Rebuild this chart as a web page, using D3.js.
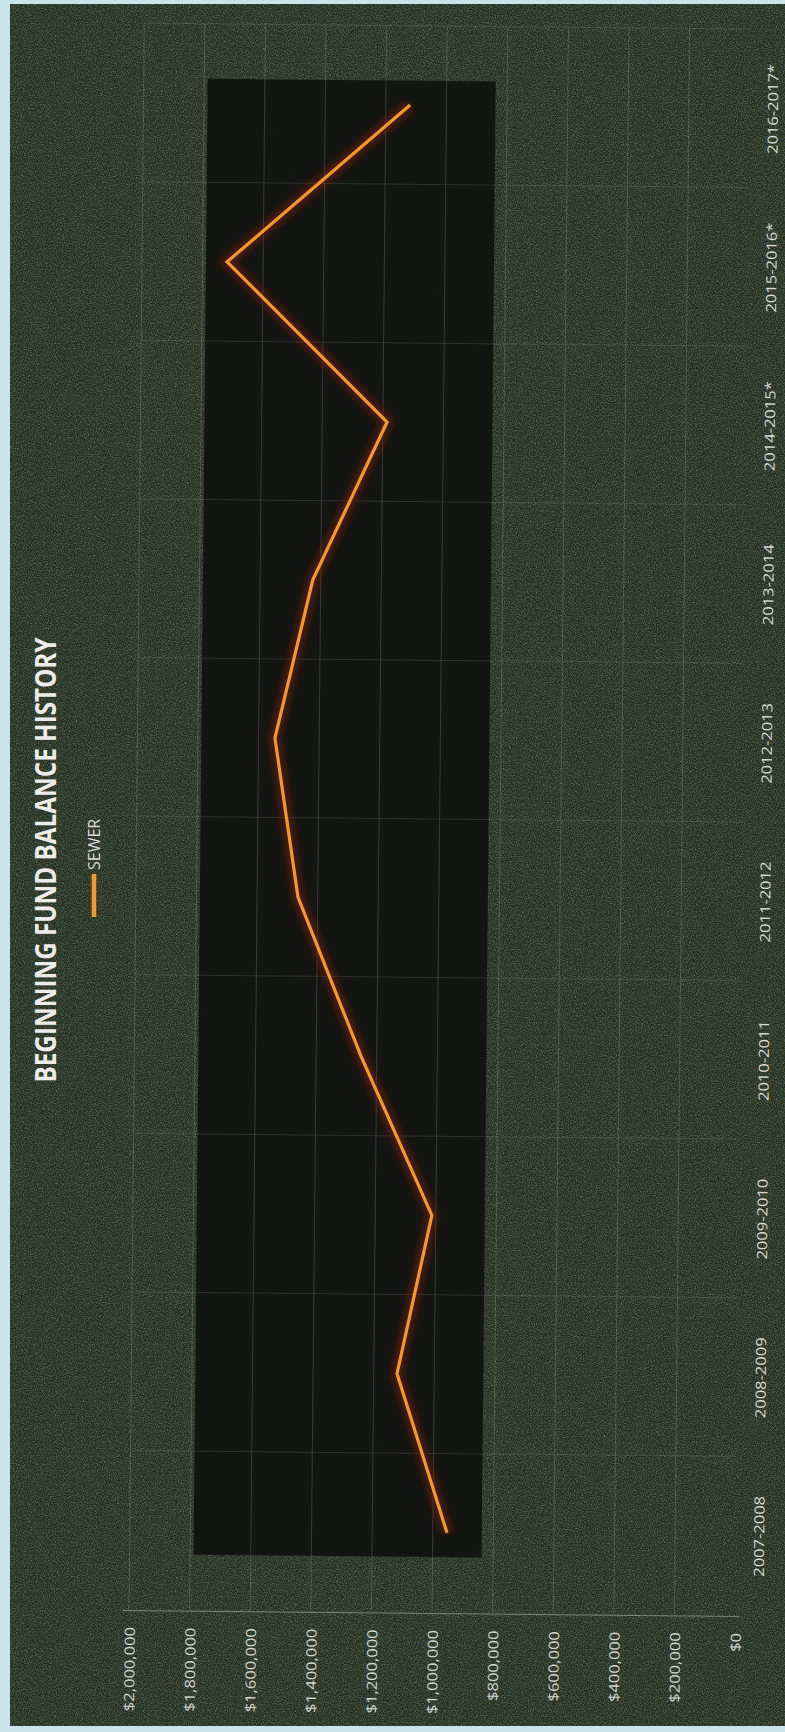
<!DOCTYPE html>
<html>
<head>
<meta charset="utf-8">
<script src="https://cdn.jsdelivr.net/npm/d3@7"></script>
<style>
  html, body { margin: 0; padding: 0; background: #c9e3ea; }
  svg { display: block; }
</style>
</head>
<body>
<div id="chart"></div>
<script>
// ---- data ----
const categories = ["2007-2008", "2008-2009", "2009-2010", "2010-2011", "2011-2012",
                    "2012-2013", "2013-2014", "2014-2015*", "2015-2016*", "2016-2017*"];
const sewer = [953000, 1123000, 1013000, 1252000, 1465000,
               1546000, 1426000, 1186000, 1719000, 1120000];
const valueTicks = [0, 200000, 400000, 600000, 800000, 1000000,
                    1200000, 1400000, 1600000, 1800000, 2000000];
const title = "BEGINNING FUND BALANCE HISTORY";
const seriesName = "SEWER";

const W = 785, H = 1732;
const svg = d3.select("#chart").append("svg").attr("width", W).attr("height", H);
const defs = svg.append("defs");

const grain = defs.append("filter").attr("id", "grain").attr("x", 0).attr("y", 0).attr("width", 1).attr("height", 1);
grain.append("feTurbulence").attr("type", "fractalNoise").attr("baseFrequency", 0.85).attr("numOctaves", 2).attr("seed", 7);
grain.append("feColorMatrix").attr("type", "matrix")
  .attr("values", "0 0 0 0 0.45  0 0 0 0 0.6  0 0 0 0 0.42  1.8 0 0 0 -0.7");

const glow = defs.append("filter").attr("id", "glow").attr("x", -0.2).attr("y", -0.2).attr("width", 1.4).attr("height", 1.4);
glow.append("feGaussianBlur").attr("stdDeviation", 3.5);

// page border (light blue) and chart background
svg.append("rect").attr("width", W).attr("height", H).attr("fill", "#c9e3ea");
svg.append("rect").attr("x", 10).attr("y", 4).attr("width", W - 10).attr("height", H - 10).attr("fill", "#253021");
svg.append("rect").attr("x", 10).attr("y", 4).attr("width", W - 10).attr("height", H - 10)
  .attr("filter", "url(#grain)").attr("opacity", 0.45);

const g = svg.append("g").attr("transform", "rotate(0.55, 435, 1300)");

// scales (chart is rotated: values run right-to-left, categories bottom-to-top)
const x = d3.scaleLinear().domain([0, 2000000]).range([738, 132]);
const y = d3.scalePoint().domain(categories).range([1612, 26]).padding(0.5);
const step = y.step();

// darker plot panel
g.append("rect").attr("x", 196).attr("y", 81).attr("width", 288).attr("height", 1476)
  .attr("fill", "#10110e").attr("opacity", 0.9);

// value gridlines
g.append("g").selectAll("line").data(valueTicks.slice(1)).join("line")
  .attr("x1", d => x(d)).attr("x2", d => x(d))
  .attr("y1", 26).attr("y2", 1612)
  .attr("stroke", "#b9beb4").attr("stroke-opacity", 0.22).attr("stroke-width", 1);

// category gridlines (boundaries)
const bounds = categories.map(c => y(c) - step / 2);
g.append("g").selectAll("line").data(bounds).join("line")
  .attr("x1", 132).attr("x2", 738)
  .attr("y1", d => d).attr("y2", d => d)
  .attr("stroke", "#b9beb4").attr("stroke-opacity", 0.18).attr("stroke-width", 1);

// value axis (original left axis), drawn along the bottom
const xAxis = d3.axisBottom(x).tickValues(valueTicks).tickSize(0).tickPadding(0)
  .tickFormat(d => "$" + d3.format(",")(d));
const xa = g.append("g").attr("transform", "translate(0,1613)").call(xAxis);
xa.select(".domain").attr("stroke", "#c8ccc4").attr("stroke-opacity", 0.5).attr("d", "M126,0.5H742");
xa.selectAll(".tick text")
  .attr("fill", "#d2d6cf").attr("font-family", "'Open Sans', sans-serif").attr("font-size", 14)
  .attr("text-anchor", "end").attr("dominant-baseline", "central")
  .attr("x", 0).attr("y", 0).attr("dy", null)
  .attr("transform", "translate(0,17) rotate(-90) scale(1.18,1)");

// category axis (original bottom axis), drawn along the right
const yAxis = d3.axisRight(y).tickSize(0).tickPadding(0);
const ya = g.append("g").attr("transform", "translate(761,0)").call(yAxis);
ya.select(".domain").remove();
ya.selectAll(".tick text")
  .attr("fill", "#d8dbd4").attr("font-family", "'Open Sans', sans-serif").attr("font-size", 14)
  .attr("text-anchor", "middle").attr("dominant-baseline", "central")
  .attr("x", 0).attr("dy", null)
  .attr("transform", "rotate(-90) scale(1.18,1)");

// series line
const line = d3.line().x(d => x(d.v)).y(d => y(d.c));
const pts = categories.map((c, i) => ({ c, v: sewer[i] }));
g.append("path").datum(pts).attr("d", line)
  .attr("fill", "none").attr("stroke", "#7a1f0c").attr("stroke-width", 12)
  .attr("stroke-opacity", 0.55).attr("filter", "url(#glow)");
g.append("path").datum(pts).attr("d", line)
  .attr("fill", "none").attr("stroke", "#f2982c").attr("stroke-width", 3.2)
  .attr("stroke-linejoin", "miter");

// title
svg.append("text").text(title)
  .attr("transform", "translate(44,860) rotate(-90)")
  .attr("text-anchor", "middle").attr("dominant-baseline", "central")
  .attr("font-family", "'Open Sans', sans-serif").attr("font-weight", 700).attr("font-size", 29)
  .attr("textLength", 445).attr("lengthAdjust", "spacingAndGlyphs")
  .attr("fill", "#ecece8");

// legend
svg.append("line").attr("x1", 94).attr("x2", 94).attr("y1", 874).attr("y2", 917)
  .attr("stroke", "#f2982c").attr("stroke-width", 4.5);
svg.append("text").text(seriesName)
  .attr("transform", "translate(94,870) rotate(-90)")
  .attr("text-anchor", "start").attr("dominant-baseline", "central")
  .attr("font-family", "'Open Sans', sans-serif").attr("font-size", 16)
  .attr("fill", "#d8dbd4");
</script>
</body>
</html>
